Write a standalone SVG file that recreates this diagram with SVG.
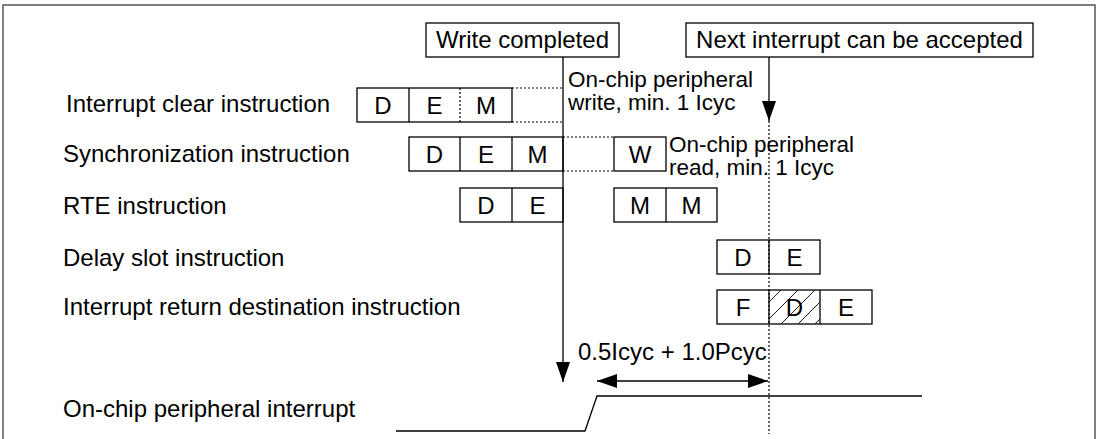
<svg xmlns="http://www.w3.org/2000/svg" width="1099" height="439" viewBox="0 0 1099 439">
<style>
text{font-family:"Liberation Sans",Arial,sans-serif;font-size:24px;fill:#000}
.c{text-anchor:middle}
.a{font-size:22.5px}
.box{fill:#fff;stroke:#000;stroke-width:1.3}
.ln{stroke:#000;stroke-width:1.3;fill:none}
.dot{stroke:#000;stroke-width:1.2;stroke-dasharray:2 2;fill:none}
.frame{stroke:#555;stroke-width:1.5;fill:none}
</style>
<defs>
<marker id="ah" markerUnits="userSpaceOnUse" markerWidth="20" markerHeight="14" refX="20" refY="7" orient="auto-start-reverse" viewBox="0 0 20 14">
<path d="M0,0 L20,7 L0,14 z" fill="#000"/>
</marker>
<pattern id="hatch" patternUnits="userSpaceOnUse" width="17" height="17">
<path d="M-4,4 L4,-4 M0,17 L17,0 M13,21 L21,13" stroke="#000" stroke-width="0.9"/>
</pattern>
</defs>
<rect width="1099" height="439" fill="#fff"/>
<path class="frame" d="M3,439 V5 H1095 V439"/>

<g id="labels">
<text x="66" y="112">Interrupt clear instruction</text>
<text x="63" y="162">Synchronization instruction</text>
<text x="63" y="214">RTE instruction</text>
<text x="63" y="266">Delay slot instruction</text>
<text x="63" y="315">Interrupt return destination instruction</text>
<text x="63" y="417">On-chip peripheral interrupt</text>
</g>

<g id="write-completed">
<rect class="box" x="426" y="23" width="193" height="34"/>
<text class="c" x="522.5" y="48">Write completed</text>
</g>
<g id="next-interrupt">
<rect class="box" x="686" y="23" width="347" height="34"/>
<text class="c" x="859.5" y="48">Next interrupt can be accepted</text>
</g>

<g id="row-clear">
<rect class="box" x="357" y="88" width="155" height="34"/>
<line class="ln" x1="409" y1="88" x2="409" y2="122"/>
<line stroke="#fff" stroke-width="2" x1="460" y1="89" x2="460" y2="121"/>
<line class="dot" x1="460" y1="88" x2="460" y2="122"/>
<text class="c" x="383" y="114">D</text>
<text class="c" x="434.5" y="114">E</text>
<text class="c" x="486" y="114">M</text>
</g>

<g id="row-sync">
<rect class="box" x="409" y="137" width="154" height="34"/>
<line class="ln" x1="460" y1="137" x2="460" y2="171"/>
<line class="ln" x1="512" y1="137" x2="512" y2="171"/>
<text class="c" x="434.5" y="163">D</text>
<text class="c" x="486" y="163">E</text>
<text class="c" x="537.5" y="163">M</text>
<rect class="box" x="614" y="137" width="52" height="34"/>
<text class="c" x="640" y="163">W</text>
</g>

<g id="row-rte">
<rect class="box" x="460" y="188" width="103" height="34"/>
<line class="ln" x1="512" y1="188" x2="512" y2="222"/>
<text class="c" x="486" y="214">D</text>
<text class="c" x="537.5" y="214">E</text>
<rect class="box" x="614" y="188" width="103" height="34"/>
<line class="ln" x1="666" y1="188" x2="666" y2="222"/>
<text class="c" x="640" y="214">M</text>
<text class="c" x="691.5" y="214">M</text>
</g>

<g id="row-delay">
<rect class="box" x="717" y="240" width="103" height="34"/>
<line class="ln" x1="769" y1="240" x2="769" y2="274"/>
<text class="c" x="743" y="266">D</text>
<text class="c" x="794.5" y="266">E</text>
</g>

<g id="row-return">
<rect class="box" x="717" y="290" width="155" height="34"/>
<rect x="769" y="290" width="51" height="34" fill="url(#hatch)"/>
<line class="ln" x1="769" y1="290" x2="769" y2="324"/>
<line class="ln" x1="820" y1="290" x2="820" y2="324"/>
<text class="c" x="743" y="316">F</text>
<text class="c" x="794.5" y="316">D</text>
<text class="c" x="846" y="316">E</text>
</g>

<g id="annotations">
<text class="a" x="568" y="87">On-chip peripheral</text>
<text class="a" x="568" y="110">write, min. 1 Icyc</text>
<text class="a" x="669" y="152">On-chip peripheral</text>
<text class="a" x="669" y="175">read, min. 1 Icyc</text>
<text x="578" y="360">0.5Icyc + 1.0Pcyc</text>
</g>

<g id="connectors">
<line class="dot" x1="512" y1="88" x2="563" y2="88"/>
<line class="dot" x1="512" y1="122" x2="563" y2="122"/>
<line class="dot" x1="563" y1="137" x2="614" y2="137"/>
<line class="dot" x1="563" y1="171" x2="614" y2="171"/>
<line class="ln" x1="563" y1="57" x2="563" y2="382" marker-end="url(#ah)"/>
<line class="ln" x1="769" y1="57" x2="769" y2="121" marker-end="url(#ah)"/>
<line class="dot" x1="769" y1="121" x2="769" y2="434"/>
<line class="ln" x1="597" y1="381" x2="768" y2="381" marker-start="url(#ah)" marker-end="url(#ah)"/>
<polyline class="ln" points="396,431 585,431 597,396 922,396"/>
</g>
</svg>
